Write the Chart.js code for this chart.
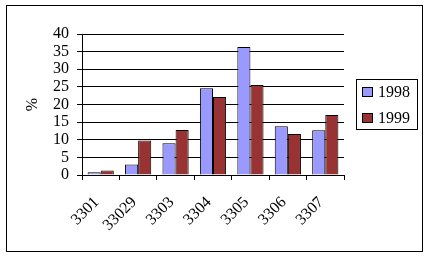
<!DOCTYPE html>
<html>
<head>
<meta charset="utf-8">
<script src="https://cdn.jsdelivr.net/npm/chart.js@4/dist/chart.umd.min.js"></script>
<style>
  html, body { margin: 0; padding: 0; background: #fff; }
  #wrap { width: 428px; height: 258px; }
</style>
</head>
<body>
<div id="wrap"><canvas id="chart" width="428" height="258"></canvas></div>
<script>
// values
const categories = ['3301', '33029', '3303', '3304', '3305', '3306', '3307'];
const values1998 = [0.8, 3.0, 9.0, 24.6, 36.3, 13.8, 12.7];
const values1999 = [1.3, 9.8, 12.8, 22.1, 25.5, 11.6, 17.0];
const seriesLabels = ['1998', '1999'];

const FONT = '"Liberation Serif", "Times New Roman", serif';

// outer frame + boxed legend, drawn by hand like the old spreadsheet chart
const framePlugin = {
    id: 'frameAndLegend',
    afterDraw(chart) {
        const ctx = chart.ctx;
        ctx.save();
        ctx.strokeStyle = '#000';
        ctx.lineWidth = 1;
        ctx.strokeRect(6.5, 5.5, 416, 246);

        // legend box
        ctx.strokeRect(356.5, 79.5, 61, 50);
        ctx.font = '16px ' + FONT;
        ctx.textBaseline = 'middle';
        ctx.textAlign = 'left';
        chart.data.datasets.forEach((ds, i) => {
            const cy = 92 + i * 26;
            ctx.fillStyle = ds.backgroundColor;
            ctx.fillRect(362, cy - 5, 11, 10);
            ctx.strokeRect(362.5, cy - 4.5, 10, 9);
            ctx.fillStyle = '#000';
            ctx.fillText(ds.label, 378, cy + 1);
        });
        ctx.restore();
    }
};

new Chart(document.getElementById('chart'), {
    type: 'bar',
    data: {
        labels: categories,
        datasets: [
            {
                label: seriesLabels[0],
                data: values1998,
                backgroundColor: '#9999ff',
                borderColor: '#000',
                borderWidth: 1
            },
            {
                label: seriesLabels[1],
                data: values1999,
                backgroundColor: '#993333',
                borderColor: '#000',
                borderWidth: 1
            }
        ]
    },
    options: {
        responsive: false,
        animation: false,
        categoryPercentage: 0.7,
        barPercentage: 1.0,
        layout: {
            padding: { top: 34, right: 84, left: 0, bottom: 0 }
        },
        plugins: {
            legend: { display: false },
            tooltip: { enabled: false }
        },
        scales: {
            x: {
                offset: true,
                afterFit(scale) { scale.height = 83; },
                grid: {
                    offset: true,
                    drawOnChartArea: false,
                    color: '#000',
                    tickLength: 5
                },
                border: { display: true, color: '#000' },
                ticks: {
                    color: '#000',
                    font: { family: FONT, size: 16 },
                    minRotation: 45,
                    maxRotation: 45,
                    padding: 13,
                    labelOffset: -4,
                    autoSkip: false
                }
            },
            y: {
                min: 0,
                max: 40,
                afterFit(scale) { scale.width = 82; },
                title: {
                    display: true,
                    text: '%',
                    color: '#000',
                    font: { family: FONT, size: 16 },
                    padding: { top: 23, bottom: 0 }
                },
                grid: {
                    color: '#000',
                    tickLength: 5
                },
                border: { display: true, color: '#000' },
                ticks: {
                    stepSize: 5,
                    autoSkip: false,
                    color: '#000',
                    font: { family: FONT, size: 16 },
                    padding: 8
                }
            }
        }
    },
    plugins: [framePlugin]
});
</script>
</body>
</html>
